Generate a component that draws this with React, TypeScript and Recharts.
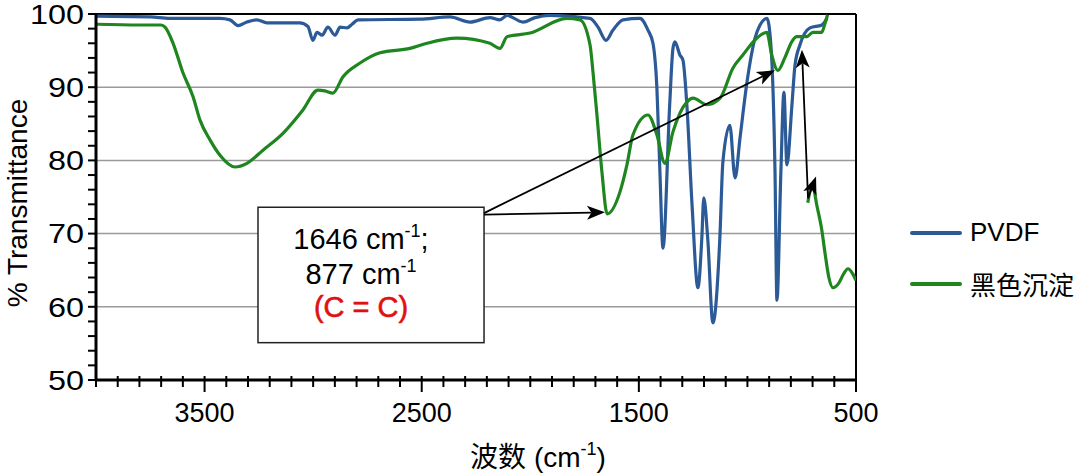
import React from "react";
import {
    LineChart,
    Line,
    XAxis,
    YAxis,
    CartesianGrid,
    ReferenceLine,
    ReferenceArea,
    Legend,
} from "recharts";

// [波数 cm-1, % 透过率]
const pvdfPoints: [number, number][] = [
    [4000, 99.7], [3750, 99.6], [3660, 99.4], [3430, 99.4], [3383, 99.2], [3346, 98.4], [3305, 98.9],
    [3259, 99.2], [3213, 98.8], [3061, 98.8], [3024, 98.3], [3001, 96.4], [2982, 97.5], [2959, 97.1],
    [2932, 98.2], [2899, 97.1], [2876, 98.2], [2844, 98.1], [2821, 98.6], [2793, 99.2], [2508, 99.3],
    [2370, 99.6], [2278, 98.9], [2186, 99.5], [2140, 99.2], [2107, 99.8], [2034, 98.9], [1978, 99.5],
    [1909, 99.8], [1725, 99.4], [1688, 98.2], [1651, 96.4], [1619, 97.8], [1573, 99.2], [1495, 99.4],
    [1458, 97.8], [1435, 96.0], [1417, 89.9], [1403, 78.4], [1389, 68.0], [1358, 87.6], [1343, 95.3],
    [1334, 96.2], [1311, 94.4], [1297, 93.7], [1279, 87.6], [1255, 73.9], [1228, 62.6], [1210, 69.4],
    [1201, 74.9], [1183, 69.4], [1159, 57.8], [1127, 69.4], [1113, 79.8], [1081, 84.8], [1057, 77.6],
    [1034, 83.1], [1002, 90.7], [965, 96.7], [942, 98.5], [910, 99.4], [892, 95.8], [873, 78.4],
    [864, 60.9], [846, 78.4], [832, 89.3], [818, 79.4], [795, 87.6], [781, 93.0], [758, 95.8],
    [712, 98.1], [657, 98.5], [634, 99.4],
];

const blackPoints: [number, number][] = [
    [4000, 98.6], [3800, 98.5], [3700, 98.5], [3682, 98.2], [3645, 96.0], [3600, 92.0], [3553, 88.7],
    [3521, 85.5], [3475, 82.8], [3429, 80.7], [3360, 79.1], [3305, 79.6], [3231, 81.4], [3139, 83.7],
    [3047, 86.9], [2978, 89.6], [2946, 89.5], [2909, 89.2], [2863, 91.4], [2784, 93.3], [2692, 94.7],
    [2554, 95.3], [2476, 96.0], [2338, 96.7], [2186, 96.0], [2140, 95.3], [2107, 96.9], [2001, 97.4],
    [1832, 99.4], [1771, 99.2], [1725, 95.8], [1711, 92.0], [1693, 86.2], [1670, 78.4], [1646, 72.7],
    [1587, 75.7], [1555, 79.4], [1527, 83.5], [1458, 86.2], [1417, 83.5], [1380, 79.6], [1343, 83.9],
    [1278, 88.0], [1250, 88.5], [1186, 87.6], [1126, 88.5], [1067, 92.6], [1021, 94.4], [957, 96.7],
    [911, 97.5], [888, 94.4], [860, 92.3], [828, 94.0], [796, 96.2], [773, 96.9], [727, 96.9],
    [699, 97.5], [658, 97.5], [645, 98.5], [631, 99.9],
];

// 黑色沉淀 尾段 (单独一段)
const blackTailPoints: [number, number][] = [
    [722, 74.2], [712, 75.8], [699, 76.4], [680, 73.8], [657, 70.4], [643, 67.4], [625, 64.0],
    [606, 62.6], [580, 63.2], [555, 64.6], [537, 65.2], [515, 64.5], [500, 63.6],
];

const xTicks = [
    4000, 3900, 3800, 3700, 3600, 3500, 3400, 3300, 3200, 3100, 3000, 2900, 2800, 2700, 2600, 2500,
    2400, 2300, 2200, 2100, 2000, 1900, 1800, 1700, 1600, 1500, 1400, 1300, 1200, 1100, 1000, 900,
    800, 700, 600, 500,
];
const xLabelTicks = [3500, 2500, 1500, 500];
const yTicks = [
    50, 52, 54, 56, 58, 60, 62, 64, 66, 68, 70, 72, 74, 76, 78, 80, 82, 84, 86, 88, 90, 92, 94, 96, 98, 100,
];
const yLabelTicks = [50, 60, 70, 80, 90, 100];
const gridX = [3500, 2500, 1500];
const gridY = [60, 70, 80, 90];

// 注释框 & 箭头 (数据坐标)
const boxRange = { x1: 3254, x2: 2213, y1: 55.1, y2: 73.6 };
const arrows: [number, number, number, number][] = [
    [2213, 72.6, 1656, 72.9],
    [2213, 72.8, 873, 92.3],
    [721, 74.9, 749, 95.1],
    [721, 74.8, 684, 77.8],
];

const toRows = (pts: [number, number][]) => pts.map(([wn, t]) => ({ wn, t }));
const pvdfData = toRows(pvdfPoints);
const blackData = toRows(blackPoints);
const blackTailData = toRows(blackTailPoints);

const BLUE = "#2b5a97";
const GREEN = "#1f861f";
const FONT = "'Liberation Sans', Arial, sans-serif";
const CJK = "'Liberation Sans', 'Noto Sans CJK SC', sans-serif";

function XTick(props: any) {
    const { x, y, payload } = props;
    const major = xLabelTicks.includes(payload.value);
    return (
        <g>
            <line x1={x} x2={x} y1={y - 4} y2={y + (major ? 12 : 7)} stroke="#000" strokeWidth={2} />
            {major && (
                <text x={x} y={y + 42} textAnchor="middle" fontSize={27} fontFamily={FONT} fill="#000">
                    {payload.value}
                </text>
            )}
        </g>
    );
}

function YTick(props: any) {
    const { x, y, payload } = props;
    if (!yLabelTicks.includes(payload.value)) return <g />;
    const s = String(payload.value);
    return (
        <text
            x={x}
            y={y}
            dy="0.36em"
            textAnchor="end"
            fontSize={27}
            fontFamily={FONT}
            fill="#000"
            textLength={s.length * 18}
            lengthAdjust="spacingAndGlyphs"
        >
            {s}
        </text>
    );
}

function arrowShape(props: any) {
    const { x1, y1, x2, y2 } = props;
    const dx = x2 - x1;
    const dy = y2 - y1;
    const len = Math.hypot(dx, dy) || 1;
    const ux = dx / len;
    const uy = dy / len;
    const hl = 18;
    const hw = 7;
    const bx = x2 - ux * hl;
    const by = y2 - uy * hl;
    const nx = x2 - ux * hl * 0.75;
    const ny = y2 - uy * hl * 0.75;
    const pts = `${x2},${y2} ${bx - uy * hw},${by + ux * hw} ${nx},${ny} ${bx + uy * hw},${by - ux * hw}`;
    return (
        <g>
            <line x1={x1} y1={y1} x2={nx} y2={ny} stroke="#000" strokeWidth={1.8} />
            <polygon points={pts} fill="#000" />
        </g>
    );
}

function boxShape(props: any) {
    const { x, y, width, height } = props;
    const cx = x + width / 2 - 10;
    return (
        <g fontFamily={FONT} fontSize={29}>
            <rect x={x} y={y} width={width} height={height} fill="#fff" stroke="#222" strokeWidth={1.5} />
            <text x={cx} y={y + 42} textAnchor="middle" fill="#000">
                1646 cm<tspan fontSize={18} dy={-12}>-1</tspan><tspan dy={12}>;</tspan>
            </text>
            <text x={cx} y={y + 77} textAnchor="middle" fill="#000">
                877 cm<tspan fontSize={18} dy={-12}>-1</tspan>
            </text>
            <text x={cx} y={y + 110} textAnchor="middle" fill="#e01010" stroke="#e01010" strokeWidth={0.6}>
                (C = C)
            </text>
        </g>
    );
}

function LegendBox(props: any) {
    const items = (props.payload || []).filter((p: any) => p.type !== "none");
    return (
        <div>
            {items.map((p: any) => (
                <div key={p.value} style={{ display: "flex", alignItems: "center", height: 51 }}>
                    <div style={{ width: 52, height: 4, borderRadius: 2, background: p.color, marginRight: 8 }} />
                    <span style={{ fontSize: 26, fontFamily: CJK, color: "#000" }}>{p.value}</span>
                </div>
            ))}
        </div>
    );
}

export default function App() {
    return (
        <div style={{ position: "absolute", left: 0, top: 0, width: 1080, height: 473, background: "#fff" }}>
            <LineChart width={1080} height={473} margin={{ top: 14, right: 224, left: 0, bottom: 0 }}>
                <XAxis xAxisId="grid" type="number" domain={[500, 4000]} reversed hide ticks={gridX} allowDataOverflow />
                <YAxis yAxisId="grid" type="number" domain={[50, 100]} hide ticks={gridY} allowDataOverflow />
                <CartesianGrid xAxisId="grid" yAxisId="grid" stroke="#9a9a9a" strokeWidth={1.5} />

                <XAxis
                    type="number"
                    dataKey="wn"
                    domain={[500, 4000]}
                    reversed
                    allowDataOverflow
                    ticks={xTicks}
                    interval={0}
                    height={93}
                    tickSize={0}
                    tickMargin={0}
                    tickLine={false}
                    axisLine={{ stroke: "#000", strokeWidth: 3 }}
                    tick={<XTick />}
                    label={{
                        content: (p: any) => {
                            const vb = p.viewBox || { x: 96, width: 760, y: 380 };
                            return (
                                <text x={vb.x + vb.width / 2 + 62} y={vb.y + 87} textAnchor="middle" fontSize={28} fontFamily={CJK} fill="#000">
                                    波数 (cm<tspan fontSize={18} dy={-12}>-1</tspan><tspan dy={12}>)</tspan>
                                </text>
                            );
                        },
                    }}
                />
                <YAxis
                    type="number"
                    domain={[50, 100]}
                    allowDataOverflow
                    ticks={yTicks}
                    interval={0}
                    width={96}
                    tickSize={8}
                    tickMargin={4}
                    tickLine={{ stroke: "#000", strokeWidth: 2 }}
                    axisLine={{ stroke: "#000", strokeWidth: 3 }}
                    tick={<YTick />}
                    label={{
                        content: (p: any) => {
                            const vb = p.viewBox || { y: 14, height: 366 };
                            const cy = vb.y + vb.height / 2 + 6;
                            return (
                                <text x={27} y={cy} transform={`rotate(-90, 27, ${cy})`} textAnchor="middle" fontSize={28} fontFamily={FONT} fill="#000">
                                    % Transmittance
                                </text>
                            );
                        },
                    }}
                />

                <ReferenceLine y={100} stroke="#000" strokeWidth={2} />
                <ReferenceLine x={500} stroke="#000" strokeWidth={2} />

                <Line data={pvdfData} dataKey="t" name="PVDF" type="monotone" stroke={BLUE} strokeWidth={3.2} dot={false} isAnimationActive={false} />
                <Line data={blackData} dataKey="t" name="黑色沉淀" type="monotone" stroke={GREEN} strokeWidth={3.2} dot={false} isAnimationActive={false} />
                <Line data={blackTailData} dataKey="t" name="黑色沉淀尾段" legendType="none" type="monotone" stroke={GREEN} strokeWidth={3.2} dot={false} isAnimationActive={false} />

                <ReferenceArea x1={boxRange.x1} x2={boxRange.x2} y1={boxRange.y1} y2={boxRange.y2} ifOverflow="visible" shape={boxShape} />
                {arrows.map(([ax, ay, bx, by], i) => (
                    <ReferenceLine
                        key={i}
                        segment={[{ x: ax, y: ay }, { x: bx, y: by }]}
                        ifOverflow="visible"
                        shape={arrowShape}
                    />
                ))}

                <Legend
                    layout="horizontal"
                    align="center"
                    verticalAlign="middle"
                    content={<LegendBox />}
                    wrapperStyle={{ left: 910, top: 207, width: 170 }}
                />
            </LineChart>
        </div>
    );
}
